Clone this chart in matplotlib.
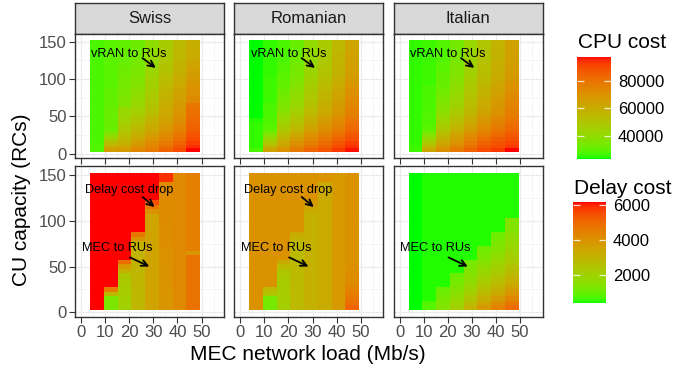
import numpy as np
import matplotlib
matplotlib.use("Agg")
import matplotlib.pyplot as plt
from matplotlib.colors import ListedColormap, Normalize

plt.rcParams['font.family'] = ['Liberation Sans', 'DejaVu Sans']

countries = ["Swiss", "Romanian", "Italian"]
mec_load = [6.6, 12.3, 18.0, 23.7, 29.4, 35.1, 40.8, 46.5]
cu_capacity = [5, 10, 15, 20, 25, 30, 35, 40, 45, 50, 55, 60, 65, 70, 75,
               80, 85, 90, 95, 100, 105, 110, 115, 120, 125, 130, 135, 140, 145, 150]

# CPU cost (thousands), one list per MEC load, from low to high CU capacity
cpu_swiss = [
    [28, 28, 27, 27, 27, 27, 27, 27, 27, 27, 27, 27, 27, 27, 27, 27, 27, 27, 27, 27, 27, 27, 27, 27, 27, 27, 27, 27, 27, 27],
    [66, 60, 53, 45, 38, 33, 31, 31, 31, 31, 31, 31, 30, 30, 30, 30, 30, 29, 29, 29, 29, 29, 29, 29, 29, 29, 29, 29, 29, 29],
    [67, 62, 58, 55, 52, 50, 48, 46, 44, 43, 42, 41, 36, 35, 35, 34, 34, 33, 33, 33, 32, 32, 32, 31, 31, 31, 31, 30, 30, 30],
    [74, 70, 66, 62, 59, 56, 54, 52, 50, 48, 46, 44, 42, 41, 40, 39, 38, 37, 36, 36, 35, 35, 34, 34, 33, 33, 33, 32, 32, 32],
    [78, 75, 72, 69, 66, 63, 61, 59, 57, 55, 53, 51, 50, 49, 48, 47, 46, 45, 45, 44, 43, 43, 42, 41, 41, 40, 40, 39, 39, 39],
    [84, 81, 78, 75, 72, 70, 68, 66, 64, 63, 62, 61, 60, 59, 58, 57, 56, 55, 54, 53, 52, 51, 50, 50, 49, 48, 48, 47, 47, 47],
    [90, 87, 84, 81, 79, 77, 75, 73, 71, 70, 69, 68, 67, 66, 65, 64, 63, 62, 61, 60, 59, 58, 57, 57, 56, 55, 55, 54, 54, 54],
    [97.6, 94.5, 92, 90, 88, 86, 85, 84, 83, 82, 81, 80, 79, 73, 72, 71, 70, 69, 68, 67, 66, 65, 64, 63, 62, 61, 60, 60, 59, 59],
]
cpu_romanian = [
    [27, 25, 25, 25, 25, 25, 25, 25, 24, 23.1, 23.1, 23.1, 23.1, 23.1, 23.1, 23.1, 23.1, 23.1, 23.1, 23.1, 23.1, 23.1, 23.1, 23.1, 23.1, 23.1, 23.1, 23.1, 23.1, 23.1],
    [63, 56, 49, 43, 36, 31, 29, 28, 28, 27, 27, 27, 27, 26, 26, 26, 26, 26, 26, 26, 25, 25, 25, 25, 25, 25, 25, 25, 25, 25],
    [70, 65, 61, 57, 53, 50, 47, 44, 42, 40, 38, 36, 35, 34, 33, 32, 31, 30, 30, 29, 29, 28, 28, 28, 27, 27, 27, 27, 27, 27],
    [78, 74, 70, 66, 62, 58, 55, 52, 50, 48, 46, 44, 42, 41, 40, 39, 38, 37, 36, 35, 34, 34, 33, 33, 32, 32, 32, 31, 31, 31],
    [84, 80, 76, 73, 70, 67, 64, 61, 59, 57, 55, 53, 51, 50, 49, 48, 47, 46, 45, 44, 43, 43, 42, 42, 41, 41, 41, 40, 40, 40],
    [88, 85, 82, 79, 76, 73, 70, 68, 66, 64, 62, 60, 59, 58, 57, 56, 55, 54, 53, 52, 51, 50, 50, 49, 49, 48, 48, 48, 47, 47],
    [93, 90, 87, 84, 81, 78, 76, 74, 72, 70, 68, 67, 66, 65, 64, 63, 62, 61, 60, 59, 58, 58, 57, 57, 56, 56, 56, 55, 55, 55],
    [97, 94, 92, 89, 87, 85, 83, 81, 79, 77, 76, 75, 74, 73, 72, 71, 70, 69, 68, 67, 66, 66, 65, 65, 64, 64, 64, 63, 63, 63],
]
cpu_italian = [
    [26, 26, 25, 25, 25, 25, 25, 25, 25, 25, 25, 25, 25, 25, 25, 25, 25, 25, 25, 25, 25, 25, 25, 25, 25, 25, 25, 25, 25, 25],
    [62, 55, 48, 42, 36, 31, 29, 28, 28, 28, 28, 27, 27, 27, 27, 27, 27, 27, 26, 26, 26, 26, 26, 26, 26, 26, 26, 26, 26, 26],
    [71, 66, 62, 58, 54, 51, 48, 45, 43, 41, 39, 37, 36, 35, 34, 33, 32, 31, 31, 30, 30, 29, 29, 29, 28, 28, 28, 28, 28, 28],
    [78, 74, 70, 67, 64, 60, 57, 54, 52, 50, 48, 46, 44, 43, 42, 41, 40, 39, 38, 37, 36, 36, 35, 35, 34, 34, 34, 33, 33, 33],
    [85, 81, 78, 75, 72, 68, 65, 62, 60, 58, 56, 54, 53, 52, 51, 50, 49, 48, 47, 46, 45, 45, 44, 44, 43, 43, 43, 42, 42, 42],
    [90, 87, 84, 81, 78, 75, 72, 70, 68, 66, 64, 62, 61, 60, 59, 58, 57, 56, 55, 54, 53, 53, 52, 52, 51, 51, 51, 50, 50, 50],
    [93, 90, 88, 86, 83, 80, 78, 76, 74, 72, 70, 69, 68, 67, 66, 65, 64, 63, 62, 61, 60, 60, 59, 59, 58, 58, 58, 57, 57, 57],
    [97.6, 93, 91, 89, 87, 85, 83, 81, 79, 78, 77, 76, 75, 74, 73, 72, 71, 70, 69, 68, 67, 67, 66, 66, 65, 65, 65, 64, 64, 64],
]

# delay cost, same layout
delay_swiss = [
    [6150, 6150, 6150, 6150, 6150, 6150, 6150, 6150, 6150, 6150, 6150, 6150, 6150, 6150, 6150, 6150, 6150, 6150, 6150, 6150, 6150, 6150, 6150, 6150, 6150, 6150, 6150, 6150, 6150, 6150],
    [1250, 1250, 1300, 2900, 4600, 6150, 6150, 6150, 6150, 6150, 6150, 6150, 6150, 6150, 6150, 6150, 6150, 6150, 6150, 6150, 6150, 6150, 6150, 6150, 6150, 6150, 6150, 6150, 6150, 6150],
    [2000, 2050, 2100, 2150, 2200, 2250, 2300, 2400, 3100, 3800, 4900, 6150, 6150, 6150, 6150, 6150, 6150, 6150, 6150, 6150, 6150, 6150, 6150, 6150, 6150, 6150, 6150, 6150, 6150, 6150],
    [2900, 2900, 2900, 2900, 2900, 2950, 2950, 2950, 2950, 3000, 3000, 3000, 3000, 3050, 3050, 3900, 4700, 6150, 6150, 6150, 6150, 6150, 6150, 6150, 6150, 6150, 6150, 6150, 6150, 6150],
    [3500, 3500, 3500, 3500, 3500, 3500, 3500, 3500, 3500, 3500, 3500, 3500, 3500, 3500, 3500, 3500, 3500, 3500, 3500, 3500, 3500, 4000, 4700, 5500, 6150, 6150, 6150, 6150, 6150, 6150],
    [3900, 3900, 3900, 3950, 3950, 3950, 4000, 4000, 4000, 4000, 4050, 4050, 4050, 4050, 4100, 4100, 4100, 4100, 4100, 4150, 4150, 4150, 4150, 4200, 4200, 4200, 4200, 4200, 5900, 5900],
    [4250, 4250, 4250, 4250, 4250, 4250, 4250, 4250, 4250, 4250, 4250, 4250, 4250, 4250, 4250, 4250, 4250, 4250, 4250, 4250, 4250, 4250, 4250, 4250, 4250, 4250, 4250, 4250, 4250, 4250],
    [4800, 4800, 4800, 4800, 4800, 4800, 4800, 4800, 4800, 4800, 4800, 4800, 3900, 4500, 4500, 4500, 4500, 4500, 4500, 4500, 4500, 4500, 4500, 4500, 4500, 4500, 4500, 4500, 4500, 4500],
]
delay_romanian = [
    [4000, 4000, 4000, 4000, 4000, 4000, 4000, 4000, 4000, 4000, 4000, 4000, 4000, 4000, 4000, 4000, 4000, 4000, 4000, 4000, 4000, 4000, 4000, 4000, 4000, 4000, 4000, 4000, 4000, 4000],
    [1200, 1200, 1200, 2400, 2800, 4000, 4000, 4000, 4000, 4000, 4000, 4000, 4000, 4000, 4000, 4000, 4000, 4000, 4000, 4000, 4000, 4000, 4000, 4000, 4000, 4000, 4000, 4000, 4000, 4000],
    [2100, 2100, 2150, 2150, 2200, 2200, 2250, 2300, 2400, 2800, 3300, 4000, 4000, 4000, 4000, 4000, 4000, 4000, 4000, 4000, 4000, 4000, 4000, 4000, 4000, 4000, 4000, 4000, 4000, 4000],
    [2800, 2800, 2800, 2800, 2800, 2800, 2800, 2800, 2800, 2800, 2800, 2800, 2800, 2800, 2800, 3000, 3300, 4000, 4000, 4000, 4000, 4000, 4000, 4000, 4000, 4000, 4000, 4000, 4000, 4000],
    [3100, 3100, 3100, 3100, 3100, 3100, 3100, 3100, 3100, 3100, 3100, 3100, 3100, 3100, 3100, 3100, 3100, 3100, 3100, 3100, 3100, 3300, 3500, 3800, 4000, 4000, 4000, 4000, 4000, 4000],
    [3300, 3300, 3300, 3300, 3300, 3300, 3300, 3300, 3300, 3300, 3300, 3300, 3300, 3300, 3300, 3300, 3300, 3300, 3300, 3300, 3300, 3300, 3300, 3300, 3300, 3300, 3300, 3300, 4000, 4000],
    [3800, 3800, 3800, 3800, 3800, 3800, 3800, 3800, 3800, 3800, 3800, 3800, 3800, 3800, 3800, 3800, 3800, 3800, 3800, 3800, 3800, 3800, 3800, 3800, 3800, 3800, 3800, 3800, 3800, 3800],
    [5100, 4900, 4700, 4550, 4400, 4300, 4200, 4150, 4100, 4050, 4000, 4000, 4000, 4000, 4000, 4000, 4000, 4000, 4000, 4000, 4000, 4000, 4000, 4000, 4000, 4000, 4000, 4000, 4000, 4000],
]
delay_italian = [
    [380, 380, 380, 380, 380, 380, 380, 380, 380, 380, 380, 380, 380, 380, 380, 380, 380, 380, 380, 380, 380, 380, 380, 380, 380, 380, 380, 380, 380, 380],
    [800, 750, 450, 450, 450, 450, 450, 450, 450, 450, 450, 450, 450, 450, 450, 450, 450, 450, 450, 450, 450, 450, 450, 450, 450, 450, 450, 450, 450, 450],
    [1400, 1300, 1200, 1100, 1000, 450, 450, 450, 450, 450, 450, 450, 450, 450, 450, 450, 450, 450, 450, 450, 450, 450, 450, 450, 450, 450, 450, 450, 450, 450],
    [2100, 1900, 1700, 1550, 1400, 1250, 1150, 1050, 450, 450, 450, 450, 450, 450, 450, 450, 450, 450, 450, 450, 450, 450, 450, 450, 450, 450, 450, 450, 450, 450],
    [3000, 2700, 2400, 2150, 1950, 1750, 1600, 1450, 1350, 1250, 1200, 450, 450, 450, 450, 450, 450, 450, 450, 450, 450, 450, 450, 450, 450, 450, 450, 450, 450, 450],
    [3850, 3500, 3150, 2850, 2600, 2350, 2150, 1950, 1800, 1600, 1450, 1300, 1200, 1100, 450, 450, 450, 450, 450, 450, 450, 450, 450, 450, 450, 450, 450, 450, 450, 450],
    [4400, 4050, 3700, 3400, 3100, 2850, 2600, 2400, 2200, 2000, 1850, 1700, 1550, 1400, 1300, 1150, 1050, 450, 450, 450, 450, 450, 450, 450, 450, 450, 450, 450, 450, 450],
    [5000, 4650, 4300, 4000, 3700, 3400, 3150, 2900, 2700, 2500, 2300, 2150, 2000, 1850, 1750, 1650, 1550, 1450, 1400, 1350, 450, 450, 450, 450, 450, 450, 450, 450, 450, 450],
]

cpu = [np.array(d).T * 1000 for d in (cpu_swiss, cpu_romanian, cpu_italian)]
delay = [np.array(d).T for d in (delay_swiss, delay_romanian, delay_italian)]


# green -> red gradient interpolated in Lab, like ggplot's scale_fill_gradient
M = np.array([[0.4124564, 0.3575761, 0.1804375],
              [0.2126729, 0.7151522, 0.0721750],
              [0.0193339, 0.1191920, 0.9503041]])
WHITE = np.array([0.95047, 1.0, 1.08883])


def to_lab(rgb):
    c = np.asarray(rgb, float)
    lin = np.where(c <= 0.04045, c / 12.92, ((c + 0.055) / 1.055) ** 2.4)
    xyz = lin @ M.T / WHITE
    f = np.where(xyz > 216 / 24389, np.cbrt(xyz), (24389 / 27 * xyz + 16) / 116)
    return np.stack([116 * f[..., 1] - 16, 500 * (f[..., 0] - f[..., 1]),
                     200 * (f[..., 1] - f[..., 2])], -1)


def from_lab(lab):
    fy = (lab[..., 0] + 16) / 116
    f = np.stack([fy + lab[..., 1] / 500, fy, fy - lab[..., 2] / 200], -1)
    xyz = np.where(f ** 3 > 216 / 24389, f ** 3, (116 * f - 16) / (24389 / 27)) * WHITE
    lin = np.clip(xyz @ np.linalg.inv(M).T, 0, 1)
    c = np.where(lin <= 0.0031308, 12.92 * lin, 1.055 * lin ** (1 / 2.4) - 0.055)
    return np.clip(c, 0, 1)


lo, hi = to_lab([0, 1, 0]), to_lab([1, 0, 0])
t = np.linspace(0, 1, 256)[:, None]
cmap = ListedColormap(from_lab(lo + t * (hi - lo)))

cpu_norm = Normalize(min(d.min() for d in cpu), max(d.max() for d in cpu))
delay_norm = Normalize(min(d.min() for d in delay), max(d.max() for d in delay))

W, H = 697, 370
fig = plt.figure(figsize=(6.97, 3.70), dpi=100)


def px(l, t_, w, h):
    return [l / W, 1 - (t_ + h) / H, w / W, h / H]


lefts = [75, 234.2, 393.5]
pw = 149
border = '#333333'


def style(ax, show_x, show_y):
    ax.set_xlim(-2.5, 59.3)
    ax.set_xticks([0, 10, 20, 30, 40, 50])
    ax.set_xticks([5, 15, 25, 35, 45, 55], minor=True)
    ax.set_yticks([0, 50, 100, 150])
    ax.set_yticks([25, 75, 125], minor=True)
    ax.set_axisbelow(True)
    ax.grid(which='major', color='#EBEBEB', lw=0.9)
    ax.grid(which='minor', color='#F2F2F2', lw=0.5)
    for s in ax.spines.values():
        s.set_color(border)
        s.set_linewidth(1.0)
    ax.tick_params(which='major', length=4, width=0.8, color=border,
                   labelsize=12, labelcolor='#4D4D4D', pad=2)
    ax.tick_params(which='minor', length=0)
    ax.tick_params(axis='y', left=show_y, labelleft=show_y)
    ax.tick_params(axis='x', labelbottom=show_x)


def arrow(ax, start, end):
    ax.annotate('', xy=end, xytext=start,
                arrowprops=dict(arrowstyle='->', lw=1.3, color='black',
                                shrinkA=0, shrinkB=0, mutation_scale=11))


for i, name in enumerate(countries):
    # strip
    sax = fig.add_axes(px(lefts[i], 2.7, pw, 31.5))
    sax.set_facecolor('#D9D9D9')
    sax.set_xticks([])
    sax.set_yticks([])
    for s in sax.spines.values():
        s.set_color(border)
        s.set_linewidth(1.0)
    sax.text(0.5, 0.5, name, ha='center', va='center', fontsize=12, color='#1A1A1A',
             transform=sax.transAxes)

    # CPU cost panel
    ax = fig.add_axes(px(lefts[i], 34.2, pw, 123.4))
    ax.pcolormesh(mec_load, cu_capacity, cpu[i], cmap=cmap, norm=cpu_norm,
                  shading='nearest', antialiased=False)
    ax.set_ylim(-5, 160)
    style(ax, False, i == 0)
    ax.text(20, 133, 'vRAN to RUs', ha='center', va='center', fontsize=9.2)
    arrow(ax, (25.5, 128), (31, 115))

    # delay cost panel
    ax2 = fig.add_axes(px(lefts[i], 165.8, pw, 151.1))
    ax2.pcolormesh(mec_load, cu_capacity, delay[i], cmap=cmap, norm=delay_norm,
                   shading='nearest', antialiased=False)
    ax2.set_ylim(-5, 160)
    style(ax2, True, i == 0)
    if name != "Italian":
        ax2.text(20, 133.5, 'Delay cost drop', ha='center', va='center', fontsize=9.2)
        arrow(ax2, (25.5, 126), (30.5, 115))
    ax2.text(15, 70, 'MEC to RUs', ha='center', va='center', fontsize=9.2)
    arrow(ax2, (20.3, 60), (28.3, 50))

fig.text(308 / W, 1 - 355 / H, 'MEC network load (Mb/s)', ha='center', va='center',
         fontsize=15, color='black')
fig.text(22 / W, 1 - 200 / H, 'CU capacity (RCs)', ha='center', va='center',
         rotation=90, fontsize=15, color='black')


def colorbar(norm, box, ticks, title, title_xy):
    cax = fig.add_axes(px(*box))
    sm = plt.cm.ScalarMappable(cmap=cmap, norm=norm)
    cb = fig.colorbar(sm, cax=cax)
    cb.outline.set_visible(False)
    cb.set_ticks(ticks)
    cb.set_ticklabels([str(v) for v in ticks])
    cax.tick_params(left=True, right=True, direction='in', color=(1, 1, 1, 0.8),
                    length=5, width=0.9, labelsize=12, labelcolor='black', pad=5)
    fig.text(title_xy[0] / W, 1 - title_xy[1] / H, title, ha='left', va='center',
             fontsize=15)


colorbar(cpu_norm, (577, 56.7, 34, 102), [40000, 60000, 80000], 'CPU cost', (578, 42.5))
colorbar(delay_norm, (573, 202.3, 33, 101), [2000, 4000, 6000], 'Delay cost', (574, 188))

fig.savefig('out.png', dpi=100)
